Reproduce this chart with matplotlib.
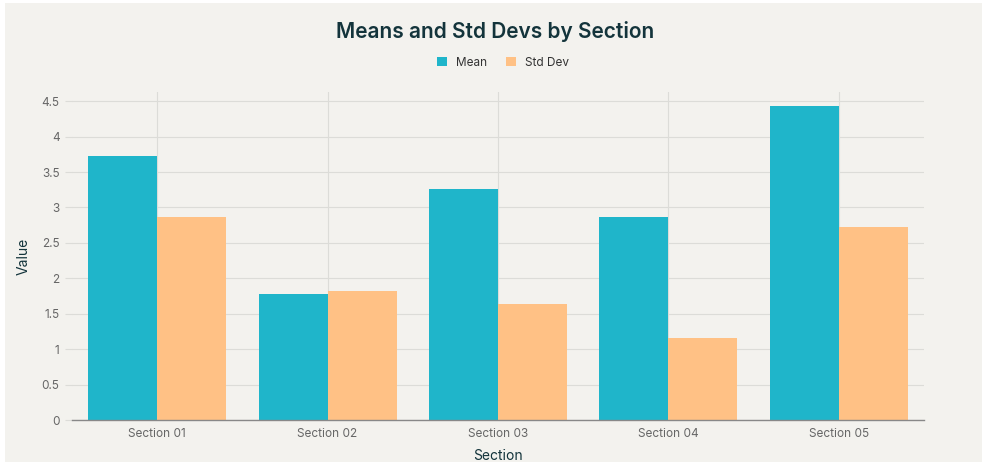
import numpy as np
import matplotlib.pyplot as plt
from matplotlib.patches import Rectangle

plt.rcParams['font.family'] = ['Inter', 'DejaVu Sans']

# data
sections = ['Section 01', 'Section 02', 'Section 03', 'Section 04', 'Section 05']
means = [3.72, 1.78, 3.26, 2.86, 4.43]
stds = [2.86, 1.82, 1.64, 1.16, 2.72]
yticks = [0, 0.5, 1, 1.5, 2, 2.5, 3, 3.5, 4, 4.5]
ytick_labels = ['0', '0.5', '1', '1.5', '2', '2.5', '3', '3.5', '4', '4.5']

bg = '#f3f2ee'
mean_col = '#1fb5ca'
std_col = '#ffc185'

fig = plt.figure(figsize=(9.87, 4.65), dpi=100, facecolor='white')
# off-white panel with thin white margin
panel = Rectangle((5 / 987, 3 / 465), 977 / 987, 459 / 465,
                  transform=fig.transFigure, facecolor=bg,
                  edgecolor='none', zorder=-10)
fig.add_artist(panel)

ax = fig.add_axes([72 / 987, 45 / 465, 852 / 987, 328 / 465])
ax.set_facecolor(bg)

x = np.arange(len(sections))
w = 0.405
ax.bar(x - w / 2, means, w, color=mean_col, label='Mean', zorder=3)
ax.bar(x + w / 2, stds, w, color=std_col, label='Std Dev', zorder=3)

ax.set_xlim(-0.5, len(sections) - 0.5)
ax.set_ylim(0, 4.63)
ax.set_xticks(x)
ax.set_xticklabels(sections, fontsize=8.5, color='#666666')
ax.set_yticks(yticks)
ax.set_yticklabels(ytick_labels, fontsize=8.5, color='#666666')

ax.grid(True, color='#dcdcd8', linewidth=0.8, zorder=0)
ax.set_axisbelow(True)
for s in ['top', 'right', 'left']:
    ax.spines[s].set_visible(False)
ax.spines['bottom'].set_color('#888888')
ax.spines['bottom'].set_linewidth(1)
ax.spines['bottom'].set_zorder(4)
ax.tick_params(axis='x', length=0, pad=6)
ax.tick_params(axis='y', length=5, color='#dcdcd8', pad=4)

ax.set_ylabel('Value', fontsize=10, color='#13343b', labelpad=8)
ax.set_xlabel('Section', fontsize=10, color='#13343b', labelpad=6)

fig.text(0.502, 0.932, 'Means and Std Devs by Section', ha='center', va='center',
         fontsize=15, fontweight='semibold', color='#13343b')
fig.legend(loc='center', bbox_to_anchor=(0.51, 0.865), ncol=2, frameon=False,
           fontsize=8.5, handlelength=0.8, handleheight=0.8, columnspacing=1.6,
           handletextpad=0.8, labelcolor='#333333')

fig.savefig('out.png', dpi=100, facecolor='white')
